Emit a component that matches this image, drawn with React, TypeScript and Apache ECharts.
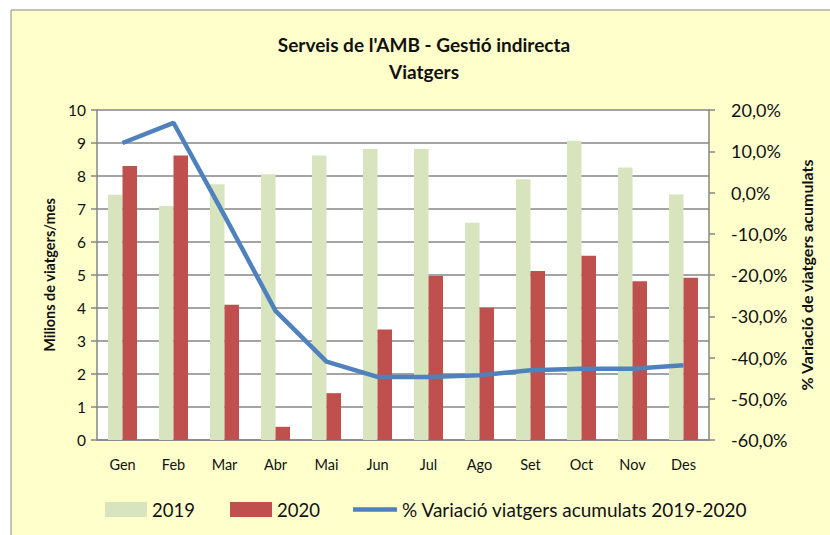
import React, { useEffect, useRef } from "react";
import * as echarts from "echarts";

const months = ["Gen", "Feb", "Mar", "Abr", "Mai", "Jun", "Jul", "Ago", "Set", "Oct", "Nov", "Des"];
const values2019 = [7.43, 7.09, 7.75, 8.05, 8.62, 8.82, 8.82, 6.58, 7.9, 9.07, 8.26, 7.44];
const values2020 = [8.3, 8.62, 4.1, 0.4, 1.42, 3.35, 4.97, 4.01, 5.12, 5.58, 4.81, 4.92];
const variation = [12.0, 16.9, -5.6, -28.7, -41.0, -44.7, -44.7, -44.3, -43.1, -42.7, -42.7, -41.9];
const titleLines = ["Serveis de l'AMB - Gestió indirecta", "Viatgers"];
const seriesNames = ["2019", "2020", "% Variació viatgers acumulats 2019-2020"];

const FONT = "Lato";
const GREY = "#868686";

export default function App() {
  const ref = useRef<HTMLDivElement>(null);
  useEffect(() => {
    if (!ref.current) return;
    const chart = echarts.init(ref.current, null, { renderer: "svg" });
    const legendText = { fontFamily: FONT, fontSize: 18.5, color: "#111" };
    const titleText = { fontFamily: FONT, fontSize: 19, fontWeight: "bold", color: "#111" };
    chart.setOption({
      animation: false,
      backgroundColor: "#ffffff",
      graphic: [
        {
          type: "rect",
          z: -10,
          silent: true,
          shape: { x: 11, y: 10, width: 830, height: 540 },
          style: { fill: "#FFFFCC", stroke: "#8a8a8a", lineWidth: 1 },
        },
      ],
      title: [
        { text: titleLines[0], left: 424, top: 35, padding: 0, textAlign: "center", textStyle: titleText },
        { text: titleLines[1], left: 424, top: 62, padding: 0, textAlign: "center", textStyle: titleText },
      ],
      legend: [
        {
          data: [seriesNames[0]],
          left: 105,
          top: 500,
          padding: 0,
          itemWidth: 42,
          itemHeight: 15,
          icon: "rect",
          textStyle: legendText,
        },
        {
          data: [seriesNames[1]],
          left: 230,
          top: 500,
          padding: 0,
          itemWidth: 42,
          itemHeight: 15,
          icon: "rect",
          textStyle: legendText,
        },
        {
          data: [{ name: seriesNames[2], icon: "rect" }],
          left: 353,
          top: 500,
          padding: 0,
          itemWidth: 44,
          itemHeight: 4.5,
          textStyle: { ...legendText, fontSize: 19, lineHeight: 15 },
        },
      ],
      grid: {
        left: 97,
        right: 121,
        top: 110,
        bottom: 95,
        show: true,
        backgroundColor: "#ffffff",
        borderWidth: 0,
      },
      xAxis: {
        type: "category",
        data: months,
        axisLine: { lineStyle: { color: GREY, width: 1.5 } },
        axisTick: { show: false },
        axisLabel: { fontFamily: FONT, fontSize: 14.5, color: "#111", margin: 17 },
      },
      yAxis: [
        {
          type: "value",
          min: 0,
          max: 10,
          interval: 1,
          name: "Milions de viatgers/mes",
          nameLocation: "middle",
          nameRotate: 90,
          nameGap: 40,
          nameTextStyle: { fontFamily: FONT, fontSize: 14.5, fontWeight: "bold", color: "#111" },
          axisLine: { show: true, lineStyle: { color: GREY, width: 1.5 } },
          axisTick: { show: true, inside: false, length: 6, lineStyle: { color: GREY, width: 1.5 } },
          axisLabel: { fontFamily: FONT, fontSize: 15.5, color: "#111", margin: 11 },
          splitLine: { show: true, lineStyle: { color: GREY, width: 1.6 } },
        },
        {
          type: "value",
          min: -60,
          max: 20,
          interval: 10,
          position: "right",
          name: "% Variació de viatgers acumulats",
          nameLocation: "middle",
          nameRotate: 90,
          nameGap: 82,
          nameTextStyle: { fontFamily: FONT, fontSize: 16, fontWeight: "bold", color: "#111" },
          axisLine: { show: true, lineStyle: { color: GREY, width: 1.5 } },
          axisTick: { show: true, inside: false, length: 6, lineStyle: { color: GREY, width: 1.5 } },
          axisLabel: {
            fontFamily: FONT,
            fontSize: 18,
            color: "#111",
            margin: 22,
            formatter: (v: number) => v.toFixed(1).replace(".", ",") + "%",
          },
          splitLine: { show: false },
        },
      ],
      series: [
        {
          name: seriesNames[0],
          type: "bar",
          data: values2019,
          barWidth: 14.5,
          barGap: "0%",
          itemStyle: { color: "#D7E4BD" },
        },
        {
          name: seriesNames[1],
          type: "bar",
          data: values2020,
          barWidth: 14.5,
          barGap: "0%",
          itemStyle: { color: "#C0504D" },
        },
        {
          name: seriesNames[2],
          type: "line",
          yAxisIndex: 1,
          data: variation,
          symbol: "none",
          lineStyle: { color: "#4F81BD", width: 4.5 },
          itemStyle: { color: "#4F81BD" },
          z: 5,
        },
      ],
    });
    return () => chart.dispose();
  }, []);
  return (
    <div
      ref={ref}
      style={{ position: "fixed", left: 0, top: 0, width: 830, height: 535 }}
    />
  );
}
